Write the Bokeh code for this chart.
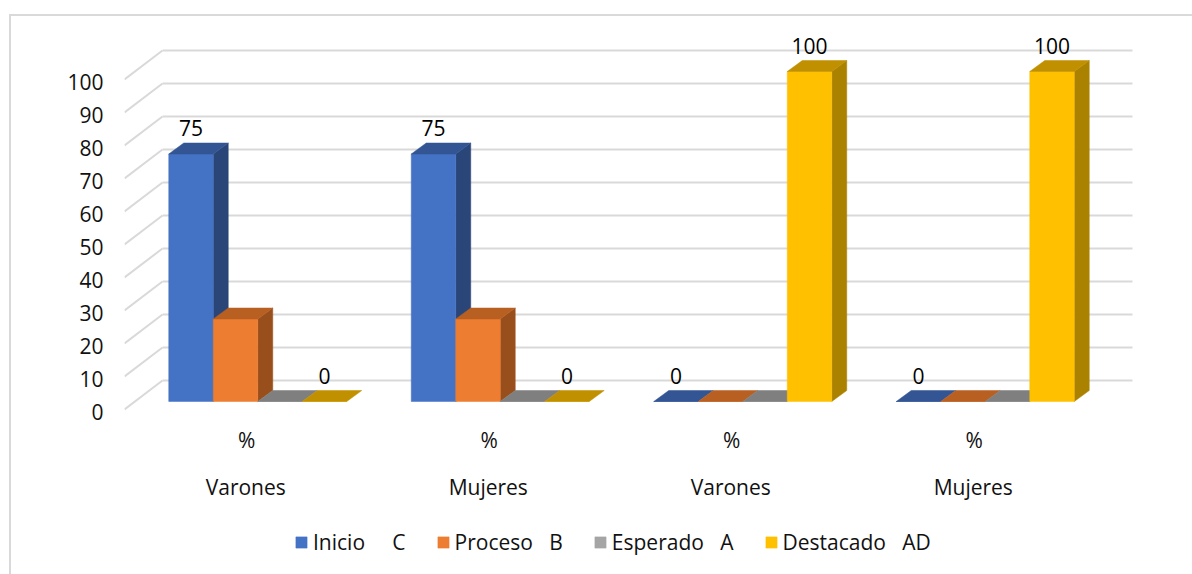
from bokeh.plotting import figure
from bokeh.models import Range1d, LinearAxis, FixedTicker, Legend, LegendItem
from bokeh.core.properties import value
from bokeh.embed import file_html
from bokeh.resources import INLINE

groups = ["Varones", "Mujeres", "Varones", "Mujeres"]
sub_label = "%"
inicio = [75, 75, 0, 0]
proceso = [25, 25, 0, 0]
esperado = [0, 0, 0, 0]
destacado = [0, 0, 100, 100]
series_names = ["Inicio     C", "Proceso   B", "Esperado   A", "Destacado   AD"]
front = ["#4472C4", "#ED7D31", "#A5A5A5", "#FFC000"]
top = ["#335593", "#B85F22", "#7F7F7F", "#C09000"]
side = ["#2A4678", "#994F1C", "#6A6A6A", "#AB8200"]
y_ticks = [0, 10, 20, 30, 40, 50, 60, 70, 80, 90, 100]

FONT = "Open Sans"
FS = "21px"
PX_Y = 3.3      # px per value unit
PX_X = 242.5    # px per category
side_dy = 2 / PX_Y
wall_dx, wall_dy = 38 / PX_X, 31 / PX_Y
plane_dx, plane_dy = 12 / PX_X, 10 / PX_Y
bar_dx, bar_dy = 15 / PX_X, 11 / PX_Y
bar_w = 44.5 / PX_X
n = len(groups)

frame_w, above_zero, below_zero = 1068, 395, 163
p = figure(frame_width=frame_w, frame_height=above_zero + below_zero, output_backend="svg",
           toolbar_location=None, x_axis_type=None, y_axis_type=None,
           x_range=Range1d(0, frame_w / PX_X),
           y_range=Range1d(-below_zero / PX_Y, above_zero / PX_Y),
           min_border_left=113, min_border_right=0, min_border_top=0, min_border_bottom=0,
           outline_line_color=None, background_fill_color="white", border_fill_color="white",
           margin=(14, 0, 0, 9))
p.xgrid.visible = False
p.ygrid.visible = False
p.styles = {"border-left": "2px solid #D9D9D9", "border-top": "2px solid #D9D9D9"}

# walls
for v in y_ticks:
    p.line([0, wall_dx], [v + side_dy, v + wall_dy], line_color="#D9D9D9", line_width=2)
    p.line([wall_dx, n + wall_dx], [v + wall_dy, v + wall_dy], line_color="#D9D9D9", line_width=2)

# bars
all_series = [inicio, proceso, esperado, destacado]
items = []
for g in range(n):
    cx = g + 0.5 + plane_dx
    for s, vals in enumerate(all_series):
        v = vals[g]
        l = cx + (s - 2) * bar_w
        r = l + bar_w
        b = plane_dy
        t = plane_dy + v
        if v > 0:
            p.patch([r, r + bar_dx, r + bar_dx, r], [b, b + bar_dy, t + bar_dy, t],
                    fill_color=side[s], line_color=side[s], line_width=0.5)
        r_front = p.quad(left=[l], right=[r], bottom=[b], top=[t],
                         fill_color=front[s], line_color=front[s], line_width=0.5)
        p.patch([l, r, r + bar_dx, l + bar_dx], [t, t, t + bar_dy, t + bar_dy],
                fill_color=top[s], line_color=top[s], line_width=0.5)
        if g == 0:
            items.append(LegendItem(label=series_names[s], renderers=[r_front]))

# data labels (first and last series)
for s in (0, 3):
    vals = all_series[s]
    xs = [g + 0.5 + plane_dx + (s - 2 + 0.5) * bar_w for g in range(n)]
    ys = [v + plane_dy + bar_dy for v in vals]
    p.text(xs, ys, text=[str(v) for v in vals], text_font=value(FONT), text_font_size=FS,
           text_color="#000000", text_align="center", text_baseline="bottom", y_offset=-7)

# value axis
yax = LinearAxis(ticker=FixedTicker(ticks=y_ticks), axis_line_color=None,
                 major_tick_line_color=None, minor_tick_line_color=None,
                 major_tick_out=0, major_tick_in=0,
                 major_label_text_font=FONT, major_label_text_font_size=FS,
                 major_label_text_color="#111111", major_label_standoff=21)
p.add_layout(yax, "left")

# two-level category labels
centers = [g + 0.5 for g in range(n)]
p.text(centers, [0] * n, text=[sub_label] * n, text_font=value(FONT), text_font_size=FS,
       text_color="#111111", text_align="center", text_baseline="middle", x_offset=1, y_offset=28)
p.text(centers, [0] * n, text=groups, text_font=value(FONT), text_font_size=FS,
       text_color="#111111", text_align="center", text_baseline="middle", x_offset=0, y_offset=75)

legend = Legend(items=items, orientation="horizontal", location=(170, 18),
                label_text_font=FONT, label_text_font_size=FS, label_text_color="#111111",
                glyph_width=14, glyph_height=14, spacing=30, label_standoff=5,
                border_line_color=None, background_fill_alpha=0, margin=0, padding=4)
p.add_layout(legend)

open("out.html", "w").write(file_html(p, INLINE))
